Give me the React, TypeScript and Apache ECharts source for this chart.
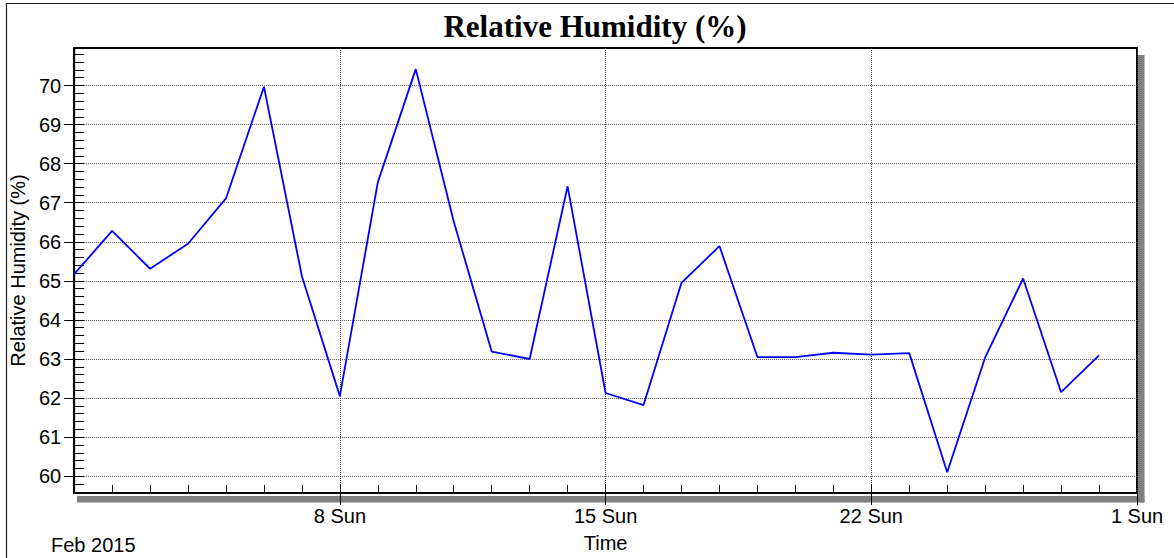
import React, { useEffect, useRef } from "react";
import * as echarts from "echarts";

// ---- data ----
const days = [1, 2, 3, 4, 5, 6, 7, 8, 9, 10, 11, 12, 13, 14, 15, 16, 17, 18, 19, 20, 21, 22, 23, 24, 25, 26, 27, 28];
const humidity = [
  65.17, 66.28, 65.31, 65.95, 67.11, 69.97, 65.12, 62.05, 67.52, 70.42,
  66.52, 63.19, 63.0, 67.42, 62.13, 61.82, 64.95, 65.89, 63.05, 63.05,
  63.16, 63.11, 63.15, 60.1, 63.04, 65.06, 62.15, 63.09,
];
const yMajorTicks = [60, 61, 62, 63, 64, 65, 66, 67, 68, 69, 70];
const weekTickDates = ["2015-02-08", "2015-02-15", "2015-02-22", "2015-03-01"];
const titleText = "Relative Humidity (%)";
const yName = "Relative Humidity (%)";
const xName = "Time";
const periodLabel = "Feb 2015";
const weekdayNames = ["Sun", "Mon", "Tue", "Wed", "Thu", "Fri", "Sat"];

const parseDate = (s: string) => {
  const [y, m, d] = s.split("-").map(Number);
  return new Date(y, m - 1, d).getTime();
};

const SANS = "'Liberation Sans', Arial, Helvetica, sans-serif";
const SERIF = "'Liberation Serif', 'Times New Roman', serif";
const FS = 20;

export default function App() {
  const ref = useRef<HTMLDivElement>(null);

  useEffect(() => {
    if (!ref.current) return;
    const chart = echarts.init(ref.current, undefined, { renderer: "svg" });

    const t0 = new Date(2015, 1, 1).getTime();
    const t1 = new Date(2015, 2, 1).getTime();
    const seriesData = days.map((d, i) => [new Date(2015, 1, d).getTime(), humidity[i]]);
    const weekTicks = weekTickDates.map(parseDate);
    const dayTicks: number[] = [];
    for (let d = 2; d <= 28; d++) dayTicks.push(new Date(2015, 1, d).getTime());
    const minorY: number[] = [];
    for (let k = 0; k <= 56; k++) minorY.push(Math.round((59.6 + 0.2 * k) * 10) / 10);

    const yMin = 59.57;
    const yMax = 70.96;

    const option: any = {
      animation: false,
      backgroundColor: "#fff",
      grid: {
        left: 71,
        top: 48,
        width: 1066,
        height: 447.5,
        show: true,
        borderColor: "#000",
        borderWidth: 2,
        backgroundColor: "#fff",
      },
      xAxis: [
        {
          type: "value",
          min: t0,
          max: t1,
          position: "bottom",
          axisLine: { show: true, lineStyle: { color: "#000", width: 2 } },
          axisTick: {
            show: true,
            inside: false,
            length: 12,
            customValues: weekTicks,
            lineStyle: { color: "#000", width: 1 },
          },
          axisLabel: {
            customValues: weekTicks,
            formatter: (v: number) => {
              const d = new Date(v);
              return `${d.getDate()} ${weekdayNames[d.getDay()]}`;
            },
            color: "#000",
            fontSize: FS,
            fontFamily: SANS,
            margin: 13,
            hideOverlap: false,
          },
          splitLine: { show: true, lineStyle: { color: "#444", type: "dotted", width: 1 } },
          name: xName,
          nameLocation: "middle",
          nameGap: 40,
          nameTextStyle: { color: "#000", fontSize: FS, fontFamily: SANS },
        },
        {
          type: "value",
          min: t0,
          max: t1,
          position: "bottom",
          axisLine: { show: false },
          axisTick: {
            show: true,
            inside: true,
            length: 8,
            customValues: dayTicks,
            lineStyle: { color: "#000", width: 1 },
          },
          axisLabel: { show: false },
          splitLine: { show: false },
        },
      ],
      yAxis: [
        {
          type: "value",
          min: yMin,
          max: yMax,
          position: "left",
          axisLine: { show: true, lineStyle: { color: "#000", width: 2 } },
          axisTick: {
            show: true,
            inside: false,
            length: 10,
            customValues: yMajorTicks,
            lineStyle: { color: "#000", width: 1 },
          },
          axisLabel: {
            customValues: yMajorTicks,
            formatter: (v: number) => String(Math.round(v)),
            color: "#000",
            fontSize: FS,
            fontFamily: SANS,
            margin: 13,
          },
          splitLine: { show: true, lineStyle: { color: "#555", type: "dotted", width: 1 } },
          name: yName,
          nameLocation: "middle",
          nameGap: 39,
          nameTextStyle: { color: "#000", fontSize: FS, fontFamily: SANS },
        },
        {
          type: "value",
          min: yMin,
          max: yMax,
          position: "left",
          axisLine: { show: false },
          axisTick: {
            show: true,
            inside: true,
            length: 10,
            customValues: minorY,
            lineStyle: { color: "#000", width: 1 },
          },
          axisLabel: { show: false },
          splitLine: { show: false },
        },
      ],
      series: [
        {
          type: "line",
          xAxisIndex: 0,
          yAxisIndex: 0,
          data: seriesData,
          symbol: "none",
          lineStyle: { color: "#0000ff", width: 1.8 },
          itemStyle: { color: "#0000ff" },
        },
      ],
      graphic: [
        {
          type: "rect",
          z: -1,
          shape: { x: 1138, y: 55, width: 6.5, height: 447.5 },
          style: { fill: "#808080" },
        },
        {
          type: "rect",
          z: -1,
          shape: { x: 77, y: 496, width: 1067.5, height: 6.5 },
          style: { fill: "#808080" },
        },
        {
          type: "rect",
          shape: { x: 6.5, y: 3.5, width: 1400, height: 800 },
          style: { fill: "none", stroke: "#222", lineWidth: 1.2 },
        },
        {
          type: "text",
          x: 595,
          y: 26,
          style: {
            text: titleText,
            fill: "#000",
            font: `bold 31px ${SERIF}`,
            align: "center",
            verticalAlign: "middle",
          },
        },
        {
          type: "text",
          x: 51,
          y: 545,
          style: {
            text: periodLabel,
            fill: "#000",
            font: `${FS}px ${SANS}`,
            align: "left",
            verticalAlign: "middle",
          },
        },
      ],
    };

    chart.setOption(option);
    return () => chart.dispose();
  }, []);

  return (
    <div
      ref={ref}
      style={{ position: "absolute", left: 0, top: 0, width: 1174, height: 558 }}
    />
  );
}
